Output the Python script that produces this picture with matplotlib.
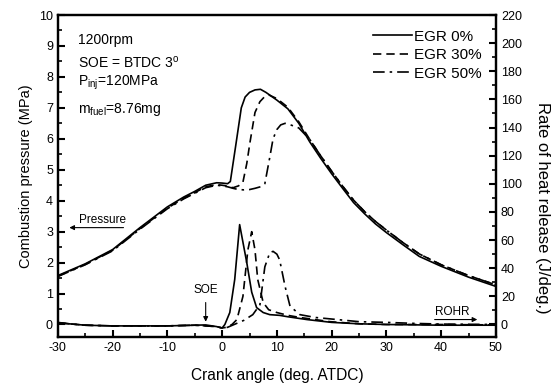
import matplotlib
matplotlib.use('Agg')
import matplotlib.pyplot as plt
from matplotlib.ticker import MultipleLocator

plt.rcParams['font.family'] = ['Liberation Sans', 'DejaVu Sans']
plt.rcParams['axes.unicode_minus'] = False
plt.rcParams['mathtext.fontset'] = 'custom'
plt.rcParams['mathtext.rm'] = 'Liberation Sans'
plt.rcParams['mathtext.it'] = 'Liberation Sans:italic'

# Combustion pressure (MPa) vs crank angle
crank_p0 = [-30, -25, -20, -15, -10, -7, -5, -3, -1, 0, 1, 1.5, 2.5, 3.5, 4.2, 5, 6, 7, 8,
            10, 12, 14, 16, 18, 20, 22, 24, 26, 28, 30, 33, 36, 40, 45, 50]
p_egr0 = [1.58, 1.96, 2.42, 3.13, 3.8, 4.12, 4.3, 4.5, 4.58, 4.57, 4.55, 4.62, 5.8, 7.0, 7.35, 7.5, 7.58, 7.6, 7.5,
          7.25, 6.97, 6.5, 5.9, 5.37, 4.87, 4.4, 3.94, 3.58, 3.25, 2.97, 2.58, 2.2, 1.88, 1.53, 1.23]

crank_p30 = [-30, -25, -20, -15, -10, -7, -5, -3, -1, 0, 1, 2, 3, 3.8, 4.5, 5.1, 6, 6.9, 7.7, 8.5,
             10, 12, 14, 16, 18, 20, 22, 24, 26, 28, 30, 33, 36, 40, 45, 50]
p_egr30 = [1.56, 1.94, 2.4, 3.1, 3.76, 4.08, 4.26, 4.45, 4.52, 4.5, 4.47, 4.42, 4.48, 4.6, 5.2, 5.9, 6.85, 7.2, 7.35, 7.42,
           7.3, 7.02, 6.55, 5.98, 5.45, 4.95, 4.47, 4.02, 3.65, 3.33, 3.05, 2.65, 2.28, 1.93, 1.58, 1.28]

crank_p50 = [-30, -25, -20, -15, -10, -7, -5, -3, -1, 0, 1, 2, 3, 4, 5, 6, 7, 7.8, 8.7, 9.3, 10, 10.7, 11.5,
             12.5, 14, 16, 18, 20, 22, 24, 26, 28, 30, 33, 36, 40, 45, 50]
p_egr50 = [1.55, 1.93, 2.38, 3.08, 3.74, 4.06, 4.24, 4.42, 4.5, 4.48, 4.45, 4.4, 4.36, 4.35, 4.36, 4.4, 4.45, 4.55, 5.4, 6.0, 6.3, 6.45, 6.5,
           6.45, 6.35, 5.98, 5.45, 4.95, 4.47, 4.02, 3.65, 3.33, 3.05, 2.65, 2.28, 1.93, 1.58, 1.28]

# Rate of heat release (J/deg.)
crank_r0 = [-30, -28, -25, -20, -10, -5, -3, -1, 0, 0.5, 1.4, 2.3, 3.2, 4.5, 5.4, 6.3, 7.5, 8.7, 10.5,
            12, 15.5, 20, 25, 30, 40, 50]
rohr_egr0 = [1.5, 0.5, -0.5, -1, -1, -0.5, -0.3, -1.5, -2.5, 0, 8.5, 32, 71, 44, 23, 12, 8.5, 7, 6.5,
             5.5, 3.5, 1.5, 0.5, 0, -0.5, -0.5]

crank_r30 = [-30, -25, -20, -10, -5, -1, 0, 0.8, 1.8, 2.7, 3.8, 4.7, 5.4, 6, 6.5, 7.5, 8.5, 10,
             12, 14.2, 17, 19.7, 25, 30, 40, 50]
rohr_egr30 = [1.2, -0.5, -1, -1, -0.5, -1.5, -2.5, -2, 0, 3.5, 20, 53, 66, 53, 32, 15.6, 10.5, 8.5,
              6.5, 5, 3.5, 2, 0.5, 0, 0, -0.3]

crank_r50 = [-30, -25, -20, -10, -5, -1, 0, 1, 2.5, 4, 5.6, 6.9, 7.8, 8.7, 9.3, 10, 10.5, 11.5, 12.4,
             14.2, 17, 19.7, 25, 30, 35, 40, 50]
rohr_egr50 = [1.2, -0.5, -1, -1, -0.5, -1.5, -2.5, -2, 0.5, 3, 7, 14, 41, 51, 52, 50, 46, 27, 13,
              7, 5, 4, 2, 1.5, 0.8, 0.3, 0]

labels = ['EGR 0%', 'EGR 30%', 'EGR 50%']
styles = ['-', (0, (5, 3)), (0, (7, 3, 1.5, 3))]

fig = plt.figure(figsize=(5.56, 3.85), dpi=100)
ax = fig.add_axes([0.104, 0.125, 0.788, 0.836])
ax2 = ax.twinx()

lw = 1.2
for cx, py, lab, ls in zip([crank_p0, crank_p30, crank_p50], [p_egr0, p_egr30, p_egr50], labels, styles):
    ax.plot(cx, py, color='k', linestyle=ls, linewidth=lw, label=lab)
for cx, ry, ls in zip([crank_r0, crank_r30, crank_r50], [rohr_egr0, rohr_egr30, rohr_egr50], styles):
    ax2.plot(cx, ry, color='k', linestyle=ls, linewidth=lw)

ax.set_xlim(-30, 50)
ax.set_ylim(-0.4, 10)
ax2.set_ylim(-8.8, 220)

ax.xaxis.set_major_locator(MultipleLocator(10))
ax.xaxis.set_minor_locator(MultipleLocator(5))
ax.yaxis.set_major_locator(MultipleLocator(1))
ax.yaxis.set_minor_locator(MultipleLocator(0.5))
ax2.yaxis.set_major_locator(MultipleLocator(20))
ax2.yaxis.set_minor_locator(MultipleLocator(10))

for a in (ax, ax2):
    a.tick_params(which='major', direction='in', length=5, width=1.5, labelsize=9)
    a.tick_params(which='minor', direction='in', length=3, width=1.2)
    for s in a.spines.values():
        s.set_linewidth(1.6)
ax.tick_params(top=False, right=False)

ax.set_xlabel('Crank angle (deg. ATDC)', fontsize=11.2, labelpad=10)
ax.set_ylabel('Combustion pressure (MPa)', fontsize=10.5)
ax2.set_ylabel('Rate of heat release (J/deg.)', fontsize=12, rotation=270, va='center')
ax2.yaxis.set_label_coords(1.107, 0.40)

# conditions text
ax.text(-26.3, 9.2, '1200rpm', fontsize=10, va='center')
ax.text(-26.3, 8.45, r'SOE = BTDC 3$^{\mathrm{o}}$', fontsize=10, va='center')
ax.text(-26.3, 7.8, r'P$_{\mathrm{inj}}$=120MPa', fontsize=10, va='center')
ax.text(-26.3, 6.95, r'm$_{\mathrm{fuel}}$=8.76mg', fontsize=10, va='center')

# Pressure arrow
ax.annotate('', xy=(-28.4, 3.13), xytext=(-17.5, 3.13),
            arrowprops=dict(arrowstyle='-|>', color='k', lw=0.8, mutation_scale=7))
ax.text(-21.9, 3.18, 'Pressure', fontsize=8.5, ha='center', va='bottom')

# SOE arrow
ax.annotate('', xy=(-3, 0.0), xytext=(-3, 0.8),
            arrowprops=dict(arrowstyle='-|>', color='k', lw=0.8, mutation_scale=7))
ax.text(-3, 1.13, 'SOE', fontsize=8.5, ha='center', va='center')

# ROHR arrow
ax.annotate('', xy=(47.1, 0.16), xytext=(38.3, 0.16),
            arrowprops=dict(arrowstyle='-|>', color='k', lw=0.8, mutation_scale=7))
ax.text(42.1, 0.22, 'ROHR', fontsize=8.5, ha='center', va='bottom')

ax.legend(loc='upper right', frameon=False, fontsize=11, handlelength=2.5,
          handletextpad=0.15, labelspacing=0.3, borderaxespad=0.55)

fig.savefig('out.png', dpi=100)
